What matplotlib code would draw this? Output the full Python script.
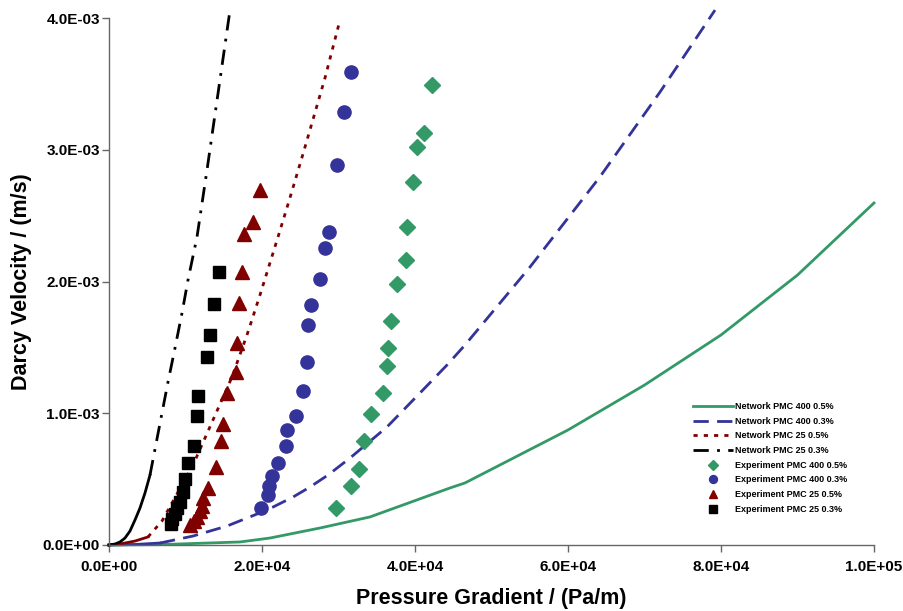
import matplotlib
matplotlib.use("Agg")
import matplotlib.pyplot as plt
from matplotlib.ticker import FuncFormatter, MultipleLocator

plt.rcParams['font.family'] = ['Liberation Sans', 'DejaVu Sans']

# ---- Network model curves ----
net400_05_x = [0, 6667, 17124, 21046, 27582, 34118, 44575, 46536, 60000, 70000, 80000, 90000, 100000]
net400_05_y = [0, 0.003e-3, 0.023e-3, 0.053e-3, 0.129e-3, 0.213e-3, 0.433e-3, 0.471e-3, 0.873e-3, 1.214e-3, 1.594e-3, 2.049e-3, 2.596e-3]

net400_03_x = [0, 3399, 6667, 10980, 15425, 19346, 21438, 24052, 26275, 28627, 31503, 36340, 40654, 44183, 46536, 55033, 64183, 72026, 79216]
net400_03_y = [0, 0.004e-3, 0.015e-3, 0.068e-3, 0.144e-3, 0.235e-3, 0.288e-3, 0.364e-3, 0.440e-3, 0.531e-3, 0.660e-3, 0.896e-3, 1.154e-3, 1.366e-3, 1.518e-3, 2.110e-3, 2.795e-3, 3.438e-3, 4.06e-3]

net25_05_x = [0, 1438, 3399, 5098, 6928, 8889, 10980, 12549, 13595, 16078, 18170, 19739, 22092, 23530, 25359, 28235, 30196]
net25_05_y = [0, 0.0076e-3, 0.030e-3, 0.061e-3, 0.182e-3, 0.387e-3, 0.607e-3, 0.812e-3, 0.949e-3, 1.275e-3, 1.617e-3, 1.898e-3, 2.338e-3, 2.611e-3, 2.968e-3, 3.545e-3, 3.985e-3]

net25_03_x = [0, 784, 1438, 2092, 2745, 3399, 4052, 4706, 5359, 6928, 7713, 8628, 9543, 10327, 11503, 12811, 15817]
net25_03_y = [0, 0.0076e-3, 0.023e-3, 0.053e-3, 0.106e-3, 0.190e-3, 0.281e-3, 0.395e-3, 0.531e-3, 1.002e-3, 1.237e-3, 1.495e-3, 1.761e-3, 2.011e-3, 2.338e-3, 2.846e-3, 4.06e-3]

# ---- Experiments ----
exp400_05_x = [42183, 41216, 40222, 39699, 38954, 38784, 37686, 36824, 36431, 36301, 35817, 34248, 33373, 32641, 31634, 29634]
exp400_05_y = [3.491e-3, 3.125e-3, 3.023e-3, 2.757e-3, 2.416e-3, 2.163e-3, 1.979e-3, 1.702e-3, 1.493e-3, 1.359e-3, 1.156e-3, 0.992e-3, 0.789e-3, 0.575e-3, 0.448e-3, 0.283e-3]

exp400_03_x = [31634, 30719, 29804, 28758, 28235, 27582, 26405, 26013, 25922, 25359, 24444, 23268, 23137, 22092, 21307, 20915, 20784, 19869]
exp400_03_y = [3.590e-3, 3.286e-3, 2.884e-3, 2.376e-3, 2.254e-3, 2.019e-3, 1.822e-3, 1.670e-3, 1.389e-3, 1.169e-3, 0.979e-3, 0.873e-3, 0.751e-3, 0.622e-3, 0.524e-3, 0.448e-3, 0.380e-3, 0.281e-3]

exp25_05_x = [19739, 18824, 17647, 17386, 16994, 16732, 16601, 15425, 14902, 14641, 13987, 12941, 12288, 12157, 11895, 11503, 11111, 10588]
exp25_05_y = [2.694e-3, 2.452e-3, 2.360e-3, 2.072e-3, 1.837e-3, 1.533e-3, 1.313e-3, 1.154e-3, 0.918e-3, 0.789e-3, 0.592e-3, 0.433e-3, 0.357e-3, 0.296e-3, 0.258e-3, 0.213e-3, 0.182e-3, 0.152e-3]

exp25_03_x = [14379, 13726, 13203, 12811, 11634, 11503, 11111, 10327, 9935, 9673, 9281, 8889, 8628, 8235, 8105]
exp25_03_y = [2.072e-3, 1.829e-3, 1.594e-3, 1.427e-3, 1.131e-3, 0.979e-3, 0.751e-3, 0.622e-3, 0.501e-3, 0.402e-3, 0.326e-3, 0.281e-3, 0.235e-3, 0.197e-3, 0.159e-3]

labels = ["Network PMC 400 0.5%", "Network PMC 400 0.3%", "Network PMC 25 0.5%", "Network PMC 25 0.3%",
          "Experiment PMC 400 0.5%", "Experiment PMC 400 0.3%", "Experiment PMC 25 0.5%", "Experiment PMC 25 0.3%"]

GREEN = '#339966'
BLUE = '#333399'
RED = '#800000'
BLACK = '#000000'

fig = plt.figure(figsize=(9.04, 6.11), dpi=100)
ax = fig.add_axes([109/904, 1-545/611, (874-109)/904, (545-18)/611])

LW = 2.0
h = []
h.append(ax.plot(net400_05_x, net400_05_y, color=GREEN, lw=LW, ls='-', clip_on=False,
                 solid_joinstyle='round')[0])
# solid start, then patterned (Excel look)
ax.plot(net400_03_x[:3], net400_03_y[:3], color=BLUE, lw=LW, ls='-', clip_on=False)
h.append(ax.plot(net400_03_x[2:], net400_03_y[2:], color=BLUE, lw=LW, dashes=(5.5, 3), clip_on=False)[0])
ax.plot(net25_05_x[:4], net25_05_y[:4], color=RED, lw=LW, ls='-', clip_on=False)
h.append(ax.plot(net25_05_x[3:], net25_05_y[3:], color=RED, lw=LW, dashes=(1.5, 2.2), clip_on=False)[0])
ax.plot(net25_03_x[:9], net25_03_y[:9], color=BLACK, lw=LW, ls='-', clip_on=False)
h.append(ax.plot(net25_03_x[8:], net25_03_y[8:], color=BLACK, lw=LW, dashes=(5.5, 3, 1, 3), clip_on=False)[0])

h.append(ax.plot(exp400_05_x, exp400_05_y, ls='none', marker='D', ms=8, color=GREEN, mec=GREEN)[0])
h.append(ax.plot(exp400_03_x, exp400_03_y, ls='none', marker='o', ms=9.5, color=BLUE, mec=BLUE)[0])
h.append(ax.plot(exp25_05_x, exp25_05_y, ls='none', marker='^', ms=9.5, color=RED, mec=RED)[0])
h.append(ax.plot(exp25_03_x, exp25_03_y, ls='none', marker='s', ms=8.5, color=BLACK, mec=BLACK)[0])

ax.set_xlim(0, 1e5)
ax.set_ylim(0, 4e-3)
ax.xaxis.set_major_locator(MultipleLocator(2e4))
ax.yaxis.set_major_locator(MultipleLocator(1e-3))
fmt = FuncFormatter(lambda v, p: '{:.1E}'.format(v))
ax.xaxis.set_major_formatter(fmt)
ax.yaxis.set_major_formatter(fmt)

for s in ['top', 'right']:
    ax.spines[s].set_visible(False)
for s in ['left', 'bottom']:
    ax.spines[s].set_color('#666666')
    ax.spines[s].set_linewidth(1.0)
ax.tick_params(axis='both', direction='out', length=5, width=1, color='#666666', labelsize=11)
ax.tick_params(axis='y', pad=1.5)
ax.tick_params(axis='x', pad=6)
for lab in ax.get_xticklabels() + ax.get_yticklabels():
    lab.set_fontweight('bold')

ax.set_xlabel('Pressure Gradient / (Pa/m)', fontsize=15.5, fontweight='bold', labelpad=10)
ax.set_ylabel('Darcy Velocity / (m/s)', fontsize=15.5, fontweight='bold', labelpad=8)

leg = ax.legend(h, labels, loc='upper left', bbox_to_anchor=(693/904, 1-402/611),
                bbox_transform=fig.transFigure, frameon=False, prop={'size': 6.5, 'weight': 'bold'},
                handlelength=4.4, handletextpad=0.3, labelspacing=0.63, markerscale=0.6,
                borderaxespad=0, borderpad=0)

fig.savefig('out.png', dpi=100)
